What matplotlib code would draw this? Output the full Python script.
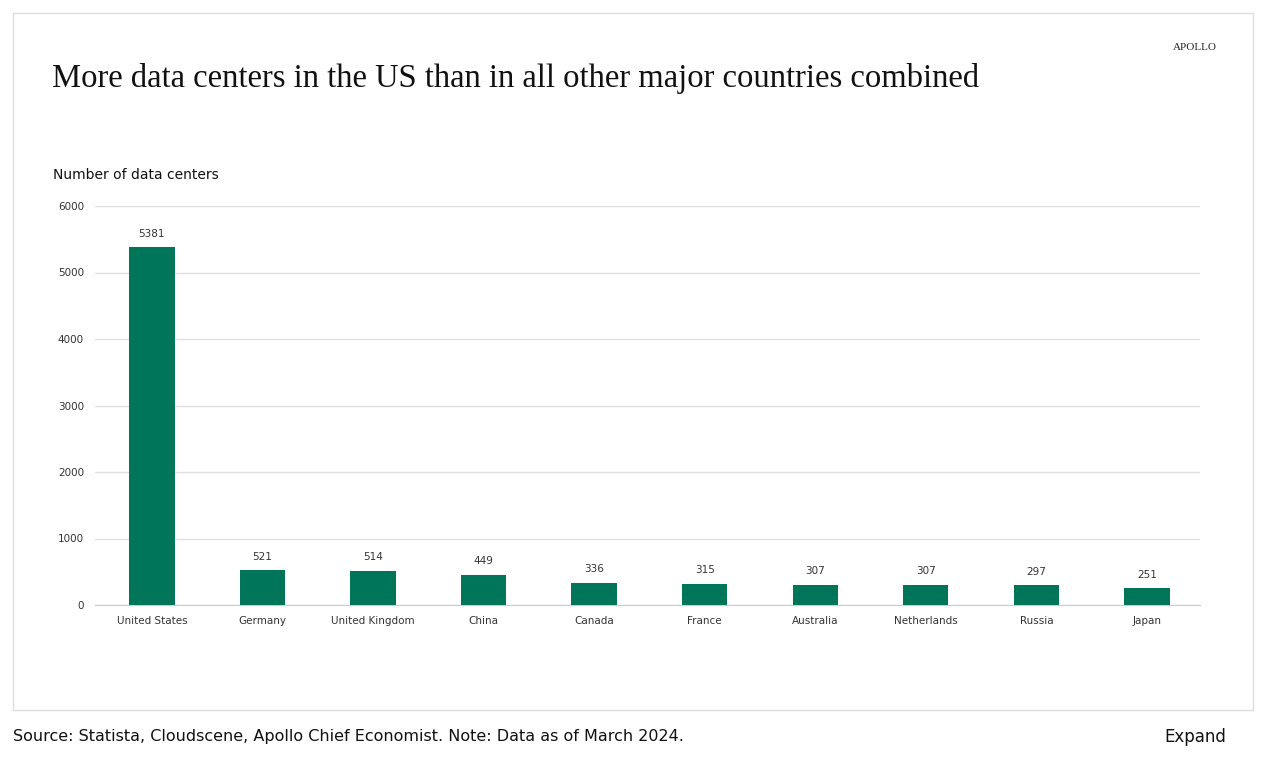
import matplotlib
matplotlib.use("Agg")
import matplotlib.pyplot as plt
from matplotlib.patches import Rectangle

countries = ["United States", "Germany", "United Kingdom", "China", "Canada",
             "France", "Australia", "Netherlands", "Russia", "Japan"]
values = [5381, 521, 514, 449, 336, 315, 307, 307, 297, 251]
yticks = [0, 1000, 2000, 3000, 4000, 5000, 6000]

fig = plt.figure(figsize=(12.8, 7.57), dpi=100)
fig.patches.append(Rectangle((13/1280, 1-710/757), 1240/1280, 697/757,
                             transform=fig.transFigure, fill=False,
                             edgecolor="#dddddd", linewidth=1))
ax = fig.add_axes([95/1280, 1-605/757, 1105/1280, 399/757])
x = range(len(countries))
ax.bar(x, values, width=0.41, color="#007559", zorder=3)
for xi, v in zip(x, values):
    ax.text(xi, v + 130, str(v), ha="center", va="bottom", fontsize=7.5, color="#333333")
ax.set_xlim(-0.515, 9.48)
ax.set_ylim(0, 6000)
ax.set_yticks(yticks)
ax.set_yticklabels([str(t) for t in yticks], fontsize=7.5, color="#333333")
ax.set_xticks(list(x))
ax.set_xticklabels(countries, fontsize=7.5, color="#333333")
ax.tick_params(length=0, pad=8)
ax.grid(axis="y", color="#e0e0e0", linewidth=1, zorder=0)
for s in ["top", "right", "left"]:
    ax.spines[s].set_visible(False)
ax.spines["bottom"].set_color("#cccccc")

fig.text(52/1280, 1-78/757, "More data centers in the US than in all other major countries combined",
         family="Liberation Serif", fontsize=23.5, va="center", color="#111111")
fig.text(1217/1280, 1-47/757, "APOLLO", family="Liberation Serif", fontsize=8,
         ha="right", va="center", color="#222222")
fig.text(53/1280, 1-175/757, "Number of data centers", fontsize=10, va="center", color="#111111")
fig.text(13/1280, 1-737/757, "Source: Statista, Cloudscene, Apollo Chief Economist. Note: Data as of March 2024.",
         fontsize=11.5, va="center", color="#111111")
fig.text(1226/1280, 1-737/757, "Expand", fontsize=12, ha="right", va="center", color="#111111")
fig.savefig("out.png", dpi=100, facecolor="white")
